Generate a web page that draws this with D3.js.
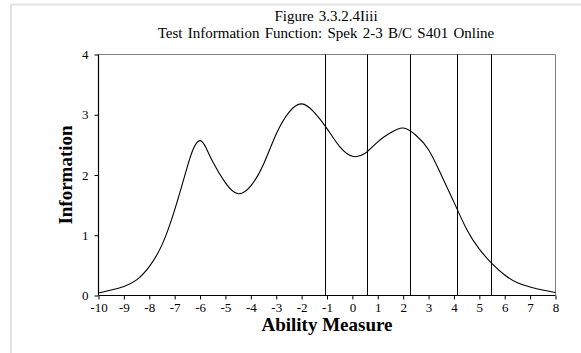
<!DOCTYPE html>
<html><head><meta charset="utf-8">
<script src="https://cdn.jsdelivr.net/npm/d3@7"></script>
<style>body{margin:0;background:#fff}svg{display:block}</style>
</head><body>
<script>
const titleLines = ["Figure 3.3.2.4Iiii", "Test Information Function: Spek 2-3 B/C S401 Online"];
const xLabel = "Ability Measure";
const yLabel = "Information";
const xTicks = [-10,-9,-8,-7,-6,-5,-4,-3,-2,-1,0,1,2,3,4,5,6,7,8];
const yTicks = [0,1,2,3,4];
const ability = [-10,-9.5,-9,-8.5,-8,-7.5,-7,-6.5,-6.25,-6,-5.75,-5.5,-5,-4.5,-4,-3.5,-3,-2.5,-2,-1.5,-1,-0.5,0,0.5,1,1.5,2,2.5,3,3.5,4,4.5,5,5.5,6,6.5,7,7.5,8];
const information = [0.04,0.09,0.15,0.26,0.48,0.84,1.42,2.14,2.45,2.57,2.44,2.22,1.87,1.69,1.82,2.18,2.68,3.04,3.18,3.04,2.77,2.47,2.31,2.36,2.55,2.70,2.78,2.66,2.42,2.00,1.55,1.10,0.77,0.53,0.34,0.21,0.14,0.09,0.05];
const cutPoints = [-1.07,0.59,2.28,4.12,5.47];

const W=581,H=353;
const L=98.5,R=555.5,T=54.5,B=295.5;
const svg=d3.select("body").append("svg").attr("width",W).attr("height",H);
svg.append("path").attr("d",`M11,${H}V4.5H${W}`).attr("fill","none").attr("stroke","#e3e3e3").attr("stroke-width",2);

const x=d3.scaleLinear().domain([-10,8]).range([L,R]);
const y=d3.scaleLinear().domain([0,4]).range([B,T]);
const font="'Liberation Serif','Times New Roman',serif";

svg.append("path").attr("d",`M${L},${T}H${R}V${B}`).attr("fill","none").attr("stroke","#808080").attr("stroke-width",1);

svg.selectAll("line.cut").data(cutPoints).enter().append("line")
 .attr("x1",d=>Math.round(x(d))+0.5).attr("x2",d=>Math.round(x(d))+0.5)
 .attr("y1",T).attr("y2",B).attr("stroke","#000").attr("stroke-width",1);

const pts=ability.map((a,i)=>[a,information[i]]);
svg.append("path").datum(pts)
 .attr("d",d3.line().x(d=>x(d[0])).y(d=>y(d[1])).curve(d3.curveNatural))
 .attr("fill","none").attr("stroke","#000").attr("stroke-width",1.1);

const xa=svg.append("g").attr("transform",`translate(0,${B})`)
 .call(d3.axisBottom(x).tickValues(xTicks).tickSize(4).tickPadding(3).tickFormat(d3.format("d")));
const ya=svg.append("g").attr("transform",`translate(${L},0)`)
 .call(d3.axisLeft(y).tickValues(yTicks).tickSize(4).tickPadding(6).tickFormat(d3.format("d")));
[xa,ya].forEach(g=>{
  g.select(".domain").attr("stroke","#000").attr("stroke-width",1.2);
  g.selectAll(".tick line").attr("stroke","#000");
  g.selectAll("text").attr("font-family",font).attr("font-size",13).attr("fill","#000");
});
xa.select(".domain").attr("d",`M${L},0H${R}`);
ya.select(".domain").attr("d",`M0,${B}V${T}`);
xa.selectAll("text").text(d=>d<0?"-"+Math.abs(d):d);

svg.selectAll("text.title").data(titleLines).enter().append("text")
 .attr("x",(L+R)/2-1).attr("y",(d,i)=>21+i*16.8).attr("text-anchor","middle")
 .attr("font-family",font).attr("font-size",15).attr("word-spacing",1.5).attr("fill","#000").text(d=>d);

svg.append("text").attr("x",(L+R)/2).attr("y",331).attr("text-anchor","middle")
 .attr("font-family",font).attr("font-size",19).attr("font-weight","bold").text(xLabel);
svg.append("text").attr("transform",`translate(72,175) rotate(-90)`).attr("text-anchor","middle")
 .attr("font-family",font).attr("font-size",19).attr("font-weight","bold").text(yLabel);
</script>
</body></html>
